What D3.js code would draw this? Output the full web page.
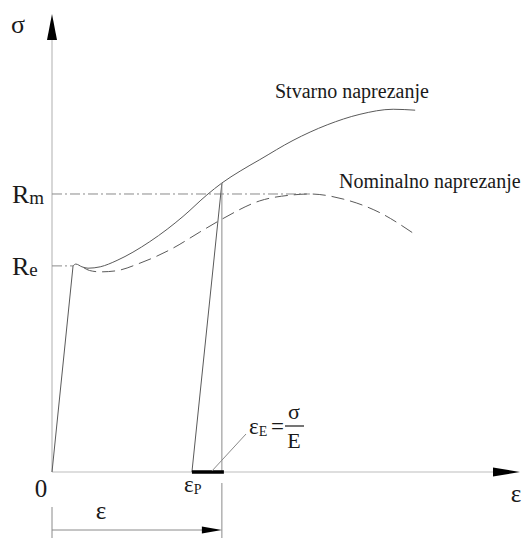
<!DOCTYPE html>
<html>
<head>
<meta charset="utf-8">
<script src="https://cdn.jsdelivr.net/npm/d3@7"></script>
<style>
  html, body { margin: 0; padding: 0; background: #fff; }
  svg { display: block; }
</style>
</head>
<body>
<svg id="chart" width="527" height="538"></svg>
<script>
// Stress–strain diagram: true stress vs nominal (engineering) stress.
// Strain and stress in relative units (0–100 along each axis).

// True stress curve ("Stvarno naprezanje")
const trueStrain = [4.5, 5.1, 6.4, 7.7, 10.3, 13.9, 17.3, 20.9, 24.6, 28.0, 33.1, 36.3, 40.2, 44.4, 51.5, 58.8, 65.8, 72.9, 77.6];
const trueStress = [45.0, 45.4, 44.8, 44.5, 44.8, 46.2, 48.0, 50.3, 53.0, 55.8, 60.5, 63.1, 65.7, 68.2, 72.4, 75.8, 78.1, 79.2, 79.0];

// Nominal stress curve ("Nominalno naprezanje")
const nomStrain = [6.8, 8.0, 10.3, 13.5, 18.8, 25.9, 31.6, 36.3, 44.4, 51.5, 55.1, 62.2, 70.1, 77.1];
const nomStress = [44.6, 44.0, 43.7, 43.9, 45.6, 48.9, 52.4, 55.2, 59.2, 60.5, 60.7, 59.6, 56.6, 52.2];

// Characteristic values
const yieldStrain = 4.5;      // end of elastic loading
const Re = 45.0;              // yield strength
const Rm = 60.7;              // tensile strength (max of nominal curve)
const RmStrain = 55.1;        // strain at Rm
const unloadStrain = 36.3;    // total strain ε at unloading point
const unloadStress = 63.1;    // true stress at unloading point
const plasticStrain = 29.9;   // remaining plastic strain εP

const serif = "'Liberation Serif', 'Times New Roman', Tinos, 'DejaVu Serif', serif";

const svg = d3.select("#chart")
  .attr("font-family", serif);

const x = d3.scaleLinear().domain([0, 100]).range([52, 520]);
const y = d3.scaleLinear().domain([0, 100]).range([472, 14]);

const axisColor = "#bdbdbd";
const curveColor = "#5a5a5a";
const thinColor = "#8a8a8a";
const textColor = "#1a1a1a";

// Axes
svg.append("line")
  .attr("x1", x(0)).attr("y1", y(0)).attr("x2", x(0)).attr("y2", y(100) + 20)
  .attr("stroke", axisColor).attr("stroke-width", 1.2);
svg.append("line")
  .attr("x1", x(0)).attr("y1", y(0)).attr("x2", x(100) - 20).attr("y2", y(0))
  .attr("stroke", axisColor).attr("stroke-width", 1.2);

// Axis arrowheads
svg.append("path")
  .attr("d", `M${x(0)},${y(100)} L${x(0) - 5},${y(100) + 26} L${x(0) + 5},${y(100) + 26} Z`)
  .attr("fill", "#000");
svg.append("path")
  .attr("d", `M${x(100)},${y(0)} L${x(100) - 27},${y(0) - 4.5} L${x(100) - 27},${y(0) + 4.5} Z`)
  .attr("fill", "#000");

// Reference lines for Re and Rm (dash-dot)
svg.append("line")
  .attr("x1", x(0)).attr("y1", y(Re)).attr("x2", x(yieldStrain)).attr("y2", y(Re))
  .attr("stroke", thinColor).attr("stroke-width", 1)
  .attr("stroke-dasharray", "10,3,2,3");
svg.append("line")
  .attr("x1", x(0)).attr("y1", y(Rm)).attr("x2", x(RmStrain)).attr("y2", y(Rm))
  .attr("stroke", thinColor).attr("stroke-width", 1)
  .attr("stroke-dasharray", "10,3,2,3");

// Elastic loading line
svg.append("line")
  .attr("x1", x(0)).attr("y1", y(0)).attr("x2", x(yieldStrain)).attr("y2", y(Re))
  .attr("stroke", curveColor).attr("stroke-width", 1);

const line = d3.line()
  .x(d => x(d[0])).y(d => y(d[1]))
  .curve(d3.curveMonotoneX);

// True stress curve
svg.append("path")
  .attr("d", line(d3.zip(trueStrain, trueStress)))
  .attr("fill", "none").attr("stroke", curveColor).attr("stroke-width", 1);

// Nominal stress curve (dashed)
svg.append("path")
  .attr("d", line(d3.zip(nomStrain, nomStress)))
  .attr("fill", "none").attr("stroke", curveColor).attr("stroke-width", 1)
  .attr("stroke-dasharray", "13,6");

// Unloading line (parallel to elastic line)
svg.append("line")
  .attr("x1", x(unloadStrain)).attr("y1", y(unloadStress))
  .attr("x2", x(plasticStrain)).attr("y2", y(0))
  .attr("stroke", curveColor).attr("stroke-width", 1);

// Vertical line at total strain
svg.append("line")
  .attr("x1", x(unloadStrain)).attr("y1", y(unloadStress))
  .attr("x2", x(unloadStrain)).attr("y2", y(0))
  .attr("stroke", thinColor).attr("stroke-width", 1);

// Plastic strain segment on the ε axis
svg.append("line")
  .attr("x1", x(plasticStrain)).attr("y1", y(0))
  .attr("x2", x(unloadStrain) + 2).attr("y2", y(0))
  .attr("stroke", "#000").attr("stroke-width", 3.5);

// Leader line for εE
svg.append("line")
  .attr("x1", x(plasticStrain) + 20).attr("y1", y(0) - 1)
  .attr("x2", 246).attr("y2", 434)
  .attr("stroke", thinColor).attr("stroke-width", 1);

// Dimension for total strain ε
const dimY = 530;
svg.append("line")
  .attr("x1", x(0)).attr("y1", 507).attr("x2", x(0)).attr("y2", 538)
  .attr("stroke", thinColor).attr("stroke-width", 1);
svg.append("line")
  .attr("x1", x(unloadStrain)).attr("y1", 483).attr("x2", x(unloadStrain)).attr("y2", 538)
  .attr("stroke", thinColor).attr("stroke-width", 1);
svg.append("line")
  .attr("x1", x(0)).attr("y1", dimY).attr("x2", x(unloadStrain) - 18).attr("y2", dimY)
  .attr("stroke", thinColor).attr("stroke-width", 1);
svg.append("path")
  .attr("d", `M${x(unloadStrain)},${dimY} L${x(unloadStrain) - 20},${dimY - 3.5} L${x(unloadStrain) - 20},${dimY + 3.5} Z`)
  .attr("fill", "#000");

// Labels
function label(xp, yp, txt, size, anchor) {
  return svg.append("text").attr("x", xp).attr("y", yp)
    .attr("font-family", serif).attr("fill", textColor)
    .attr("font-size", size).attr("text-anchor", anchor || "start").text(txt);
}
function subLabel(xp, yp, main, sub, size, subSize, dy) {
  const t = svg.append("text").attr("x", xp).attr("y", yp)
    .attr("font-family", serif).attr("fill", textColor).attr("font-size", size);
  t.append("tspan").text(main);
  t.append("tspan").attr("font-size", subSize).attr("dy", dy).text(sub);
  return t;
}

label(18, 33, "σ", 26, "middle");
label(41, 497, "0", 25, "middle");
label(516, 502, "ε", 25, "middle");
label(101, 519, "ε", 25, "middle");

subLabel(12, 203, "R", "m", 26, 19, 1);
subLabel(12, 275, "R", "e", 26, 19, 1);
subLabel(184, 492, "ε", "P", 23, 14, 2);

// εE = σ / E
subLabel(249, 434, "ε", "E", 23, 14, 2);
label(271, 434, "=", 23);
label(294, 419, "σ", 22, "middle");
svg.append("line").attr("x1", 285).attr("y1", 426).attr("x2", 304).attr("y2", 426)
  .attr("stroke", textColor).attr("stroke-width", 1.2);
label(294, 448, "E", 22, "middle");

label(275, 98, "Stvarno naprezanje", 20);
label(339, 188, "Nominalno naprezanje", 20);
</script>
</body>
</html>
